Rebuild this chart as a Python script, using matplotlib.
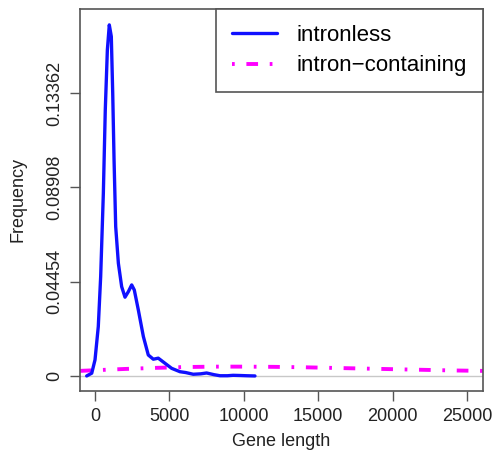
import matplotlib.pyplot as plt

plt.rcParams['font.family'] = ['Liberation Sans', 'DejaVu Sans']

# intronless density
intronless_x = [-560, -220, 0, 220, 380, 560, 690, 830, 960, 1095, 1190, 1280, 1390, 1570,
                1790, 2015, 2240, 2465, 2640, 2910, 3250, 3580, 3920, 4250, 4700, 5150,
                5710, 6100, 6600, 7100, 7500, 8000, 8400, 8900, 9280, 9800, 10190, 10750]
intronless_y = [0.0, 0.0013, 0.0076, 0.0233, 0.0469, 0.0863, 0.1256, 0.154, 0.1658, 0.1603,
                0.1335, 0.102, 0.0705, 0.0532, 0.0422, 0.0372, 0.0398, 0.043, 0.0406, 0.0312,
                0.0186, 0.0099, 0.0079, 0.0084, 0.006, 0.0036, 0.002, 0.0016, 0.0008, 0.001,
                0.0014, 0.0006, 0.0001, 0.0001, 0.0003, 0.0002, 0.0001, 0.0]

# intron-containing density
intron_x = [-2000, -1000, 0, 2000, 4000, 6000, 8000, 10000, 12000, 14000, 16000, 18000,
            20000, 22000, 24000, 26000, 28000]
intron_y = [0.0022, 0.0024, 0.0027, 0.0033, 0.0038, 0.0042, 0.0044, 0.0044, 0.0043, 0.0041,
            0.0038, 0.0035, 0.0032, 0.0029, 0.0026, 0.0024, 0.0023]

xticks = [0, 5000, 10000, 15000, 20000, 25000]
yticks = [0, 0.04454, 0.08908, 0.13362]
ytick_labels = ['0', '0.04454', '0.08908', '0.13362']

fig = plt.figure(figsize=(4.93, 4.54), dpi=100)
ax = fig.add_axes([0.1623, 0.1388, 0.8174, 0.8414])

ax.axhline(0, color='#c8c8c8', lw=1, zorder=1)
ax.plot(intronless_x, intronless_y, color='#1010ff', lw=2.4, label='intronless', zorder=3,
        solid_joinstyle='round', solid_capstyle='round')
ax.plot(intron_x, intron_y, color='#ff00ff', lw=2.8, linestyle=(0, (0.7, 3, 3, 3)),
        label='intron\u2212containing', zorder=2)

ax.set_xlim(-1008, 26075)
ax.set_ylim(-0.0071, 0.1733)
ax.set_xticks(xticks)
ax.set_xticklabels([str(t) for t in xticks])
ax.set_yticks(yticks)
ax.set_yticklabels(ytick_labels, rotation=90, va='center')

for s in ax.spines.values():
    s.set_color('#555555')
    s.set_linewidth(1.2)
ax.tick_params(length=7, width=1, color='#555555', labelsize=13, labelcolor='#222222', pad=5)

ax.set_xlabel('Gene length', fontsize=13, color='#222222', labelpad=6)
ax.set_ylabel('Frequency', fontsize=13, color='#222222', labelpad=14)

leg = ax.legend(loc='upper right', borderaxespad=0, fancybox=False, fontsize=16,
                handlelength=2.0, handletextpad=0.9, borderpad=0.72, labelspacing=0.42,
                framealpha=1)
leg.get_frame().set_edgecolor('#555555')
leg.get_frame().set_linewidth(1.2)

fig.savefig('out.png', dpi=100)
